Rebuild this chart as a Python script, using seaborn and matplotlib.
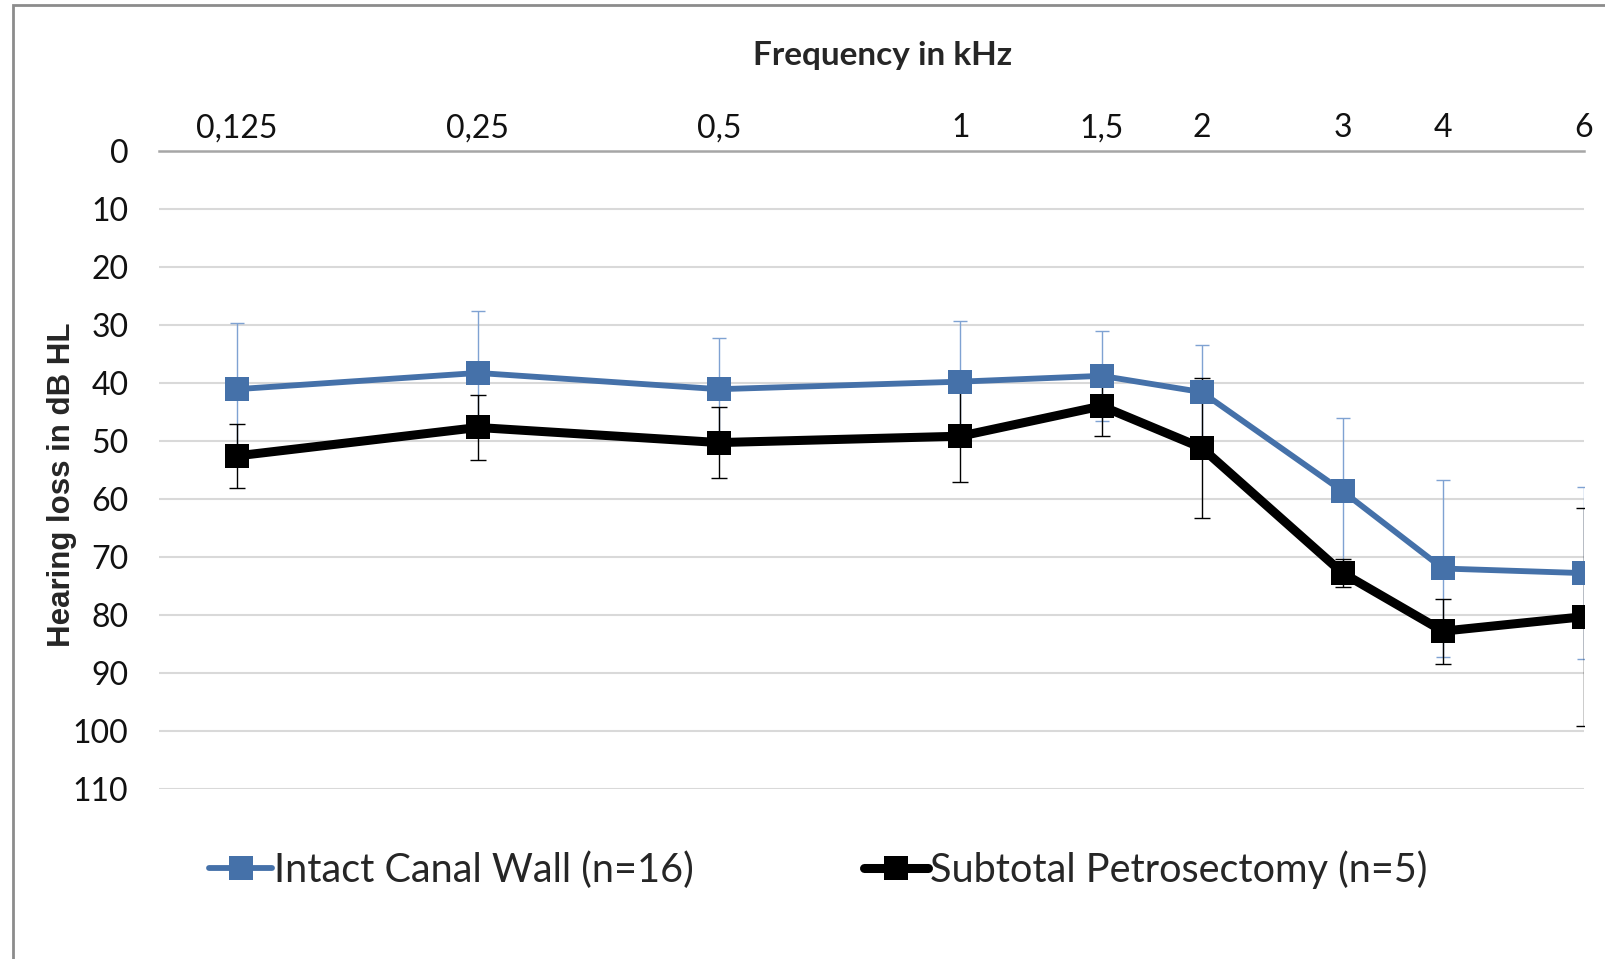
import matplotlib
matplotlib.use("Agg")
import matplotlib.pyplot as plt
import matplotlib.patches as mpatches
import seaborn as sns
import pandas as pd

# Audiogram data: mean hearing loss (dB HL) and SD per frequency
freqs = [0.125, 0.25, 0.5, 1, 1.5, 2, 3, 4, 6]
freq_labels = ["0,125", "0,25", "0,5", "1", "1,5", "2", "3", "4", "6"]

icw_mean = [41.1, 38.3, 41.1, 39.8, 38.8, 41.6, 58.7, 72.0, 72.8]
icw_sd = [11.4, 10.7, 8.9, 10.4, 7.7, 8.2, 12.7, 15.2, 14.8]

stp_mean = [52.6, 47.7, 50.3, 49.2, 44.0, 51.2, 72.8, 82.8, 80.3]
stp_sd = [5.5, 5.6, 6.1, 7.9, 5.2, 12.1, 2.4, 5.6, 18.8]

icw_name = "Intact Canal Wall (n=16)"
stp_name = "Subtotal Petrosectomy (n=5)"

df = pd.DataFrame({
    "freq": freqs * 2,
    "loss": icw_mean + stp_mean,
    "sd": icw_sd + stp_sd,
    "group": [icw_name] * len(freqs) + [stp_name] * len(freqs),
})

sns.set_style("white")
plt.rcParams["font.family"] = ["Lato", "DejaVu Sans"]

fig = plt.figure(figsize=(16.06, 9.59), dpi=100)
ax = fig.add_axes([159 / 1606, 1 - 789 / 959, 1425 / 1606, (789 - 150.7) / 959])

blue = "#4571a9"
blue_err = "#7fa2d2"

icw = df[df["group"] == icw_name]
stp = df[df["group"] == stp_name]

ax.errorbar(icw["freq"], icw["loss"], yerr=icw["sd"], fmt="none",
            ecolor=blue_err, elinewidth=1.0, capsize=5, capthick=1.0, zorder=2)
ax.errorbar(stp["freq"], stp["loss"], yerr=stp["sd"], fmt="none",
            ecolor="black", elinewidth=1.0, capsize=6, capthick=1.0, zorder=2)

sns.lineplot(data=icw, x="freq", y="loss", ax=ax, color=blue, linewidth=4.2,
             marker="s", markersize=17, markeredgewidth=0, label=icw_name,
             zorder=3)
sns.lineplot(data=stp, x="freq", y="loss", ax=ax, color="black", linewidth=6.5,
             marker="s", markersize=17, markeredgewidth=0, label=stp_name,
             zorder=4)

ax.set_xscale("log", base=2)
ax.set_xlim(0.1, 6)
ax.set_xticks(freqs)
ax.set_xticklabels(freq_labels)
ax.minorticks_off()
ax.xaxis.tick_top()

ax.set_ylim(110, 0)
ax.set_yticks(range(0, 111, 10))
ax.tick_params(axis="both", length=0, labelsize=23, colors="#111111")
ax.tick_params(axis="x", pad=5.5)
ax.tick_params(axis="y", pad=22)

ax.grid(axis="y", color="#d9d9d9", linewidth=1.5)
ax.grid(axis="x", visible=False)
for side in ["left", "right", "bottom"]:
    ax.spines[side].set_visible(False)
ax.spines["top"].set_color("#a6a6a6")
ax.spines["top"].set_linewidth(1.8)

ax.set_xlabel("")
ax.set_ylabel("Hearing loss in dB HL", fontsize=22.5, fontweight="bold",
              family="Liberation Sans")
ax.yaxis.set_label_coords(-0.0575, 0.477)

fig.text(883 / 1606, 1 - 56 / 959, "Frequency in kHz", fontsize=24,
         fontweight="bold", ha="center", va="center")

ax.legend_.remove()
handles, labels = ax.get_legend_handles_labels()
fig.legend(handles, labels, loc="center", bbox_to_anchor=(818 / 1606, 1 - 870 / 959),
           ncol=2, frameon=False, fontsize=28.5, handlelength=1.6, handletextpad=0.05,
           columnspacing=4.3)

# outer chart frame
fig.patches.append(mpatches.Rectangle((13.3 / 1606, -0.1), 1.2, 1.1 - 5.1 / 959,
                                      transform=fig.transFigure, fill=False,
                                      edgecolor="#8c8c8c", linewidth=2.0))

fig.savefig("out.png", dpi=100)
